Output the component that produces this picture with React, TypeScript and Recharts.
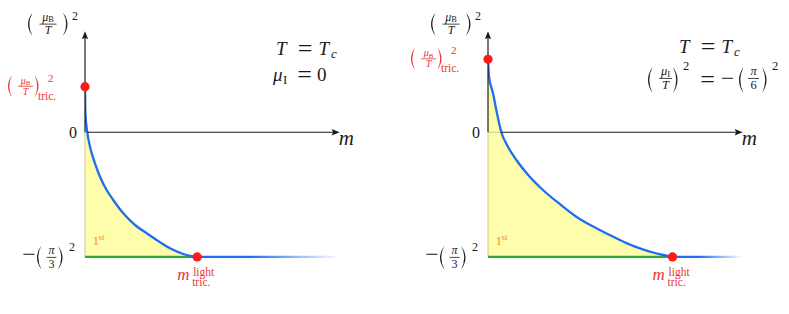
import React from 'react';
import {
  ComposedChart,
  Area,
  Line,
  XAxis,
  YAxis,
  ReferenceLine,
  ReferenceDot,
} from 'recharts';

const FONT = '"Liberation Serif", "DejaVu Serif", serif';
const INK = '#1b1b1b';
const RED = '#ff1a1a';
const RED_TEXT = '#ee3535';
const ORANGE = '#f3863a';
const BLUE = '#1d6ff0';
const GREEN = '#2eaa2e';
const YELLOW = '#fdfdab';
const OLIVE = '#cbcb8e';

// shared scale of both panels
const X_MAX = 2.3;
const Y_MIN = -1.3;
const Y_MAX = 0.9;
const X_END = 2.27; // tip of the m arrow
const Y_TOP = 0.89; // tip of the (mu_B/T)^2 arrow
const Y_BOT = -((Math.PI / 3) ** 2); // -(pi/3)^2

// left panel: mu_I = 0
const leftM = [0, 0.0036, 0.0205, 0.0446, 0.0892, 0.1337, 0.193, 0.252, 0.341, 0.446, 0.55, 0.669, 0.758, 0.876, 1.0];
const leftY = [0.401, 0.17, 0, -0.127, -0.273, -0.391, -0.508, -0.596, -0.713, -0.816, -0.889, -0.968, -1.021, -1.071, Y_BOT];
const leftTric = 0.401;
const leftMTric = 1.0;

// right panel: (mu_I/T)^2 = -(pi/6)^2
const rightM = [0, 0.009, 0.045, 0.074, 0.119, 0.178, 0.253, 0.372, 0.49, 0.639, 0.787, 0.966, 1.144, 1.293, 1.442, 1.645];
const rightY = [0.642, 0.489, 0.343, 0.196, 0, -0.127, -0.244, -0.391, -0.508, -0.631, -0.743, -0.845, -0.933, -1.0, -1.05, Y_BOT];
const rightTric = 0.642;
const rightMTric = 1.645;

// where the "T = T_c" note sits (left edge of its "=")
const leftNote = { m: 1.89, y: 0.68 };
const rightNote = { m: 1.89, y: 0.698 };

const Paren = ({ x, cy, h, side, color = INK, w = 4.5 }: any) => {
  const t = cy - h / 2;
  const b = cy + h / 2;
  const th = 1.3;
  const d =
    side === 'l'
      ? `M${x + w},${t} Q${x - w},${cy} ${x + w},${b} Q${x - w + 2 * th},${cy} ${x + w},${t}Z`
      : `M${x},${t} Q${x + 2 * w},${cy} ${x},${b} Q${x + 2 * w - 2 * th},${cy} ${x},${t}Z`;
  return <path d={d} fill={color} />;
};

const Tx = ({ x, y, size, italic, color = INK, anchor = 'start', children }: any) => (
  <text
    x={x}
    y={y}
    fontSize={size}
    fontStyle={italic ? 'italic' : 'normal'}
    fill={color}
    fontFamily={FONT}
    style={{ fontFamily: FONT }}
    textAnchor={anchor}
  >
    {children}
  </text>
);

const Frac = ({ cx, by, w, fs, num, den, color = INK }: any) => (
  <g>
    <Tx x={cx} y={by - fs * 0.27} size={fs} color={color} anchor="middle">
      {num}
    </Tx>
    <line x1={cx - w / 2} x2={cx + w / 2} y1={by} y2={by} stroke={color} strokeWidth={0.8} />
    <Tx x={cx} y={by + fs * 0.86} size={fs} color={color} anchor="middle">
      {den}
    </Tx>
  </g>
);

const muSub = (sub: string, fs: number) => (
  <>
    <tspan fontStyle="italic">μ</tspan>
    <tspan fontSize={fs * 0.7} dy={1.5}>
      {sub}
    </tspan>
  </>
);
const ital = (s: string) => <tspan fontStyle="italic">{s}</tspan>;

// vertical arrow with (mu_B / T)^2 above it
const yArrow = (p: any) => {
  const { x1, y1, x2, y2 } = p;
  const x0 = x2 - 57;
  const cy = y2 - 7;
  return (
    <g>
      <line x1={x1} y1={y1} x2={x2} y2={y2 + 5} stroke={INK} strokeWidth={1.2} />
      <path d={`M${x2},${y2} L${x2 - 3.2},${y2 + 8} L${x2},${y2 + 6.5} L${x2 + 3.2},${y2 + 8}Z`} fill={INK} />
      <Paren x={x0} cy={cy} h={23} side="l" />
      <Frac cx={x0 + 20} by={cy} w={17} fs={12} num={muSub('B', 12)} den={ital('T')} />
      <Paren x={x0 + 35} cy={cy} h={23} side="r" />
      <Tx x={x0 + 44} y={cy - 4} size={12}>2</Tx>
    </g>
  );
};

const xArrow = (p: any) => {
  const { x1, y1, x2, y2 } = p;
  return (
    <g>
      <line x1={x1} y1={y1} x2={x2 - 5} y2={y2} stroke={INK} strokeWidth={1.2} />
      <path d={`M${x2},${y2} L${x2 - 8},${y2 - 3.2} L${x2 - 6.5},${y2} L${x2 - 8},${y2 + 3.2}Z`} fill={INK} />
      <Tx x={x2 - 1} y={y2 + 12.5} size={21} italic>m</Tx>
    </g>
  );
};

// faint part of the m axis inside the yellow region, plus the "0"
const xAxisInner = (p: any) => (
  <g>
    <line x1={p.x1} y1={p.y1} x2={p.x2} y2={p.y2} stroke={OLIVE} strokeWidth={1} />
    <Tx x={p.x1 - 8} y={p.y1 + 6} size={16} anchor="end">0</Tx>
  </g>
);

// green first order line, with -(pi/3)^2 and 1st
const greenLine = (p: any) => {
  const { x1, y1, x2, y2 } = p;
  return (
    <g>
      <line x1={x1} y1={y1} x2={x2} y2={y2} stroke={GREEN} strokeWidth={2.4} />
      <Tx x={x1 - 56} y={y1 + 5} size={24} anchor="middle">−</Tx>
      <Paren x={x1 - 48} cy={y1 + 0.5} h={24} side="l" />
      <Frac cx={x1 - 33.5} by={y1 + 0.5} w={10} fs={12} num={ital('π')} den="3" />
      <Paren x={x1 - 27} cy={y1 + 0.5} h={24} side="r" />
      <Tx x={x1 - 16} y={y1 - 6} size={12}>2</Tx>
      <Tx x={x1 + 8} y={y1 - 11.5} size={11.5} color={ORANGE}>1</Tx>
      <Tx x={x1 + 13.5} y={y1 - 16.5} size={9} color={ORANGE}>st</Tx>
    </g>
  );
};

const fadeTail = (id: string) => (p: any) => (
  <g>
    <defs>
      <linearGradient id={id} gradientUnits="userSpaceOnUse" x1={p.x1} y1={p.y1} x2={p.x2} y2={p.y2}>
        <stop offset="0" stopColor={BLUE} stopOpacity={1} />
        <stop offset="0.37" stopColor={BLUE} stopOpacity={1} />
        <stop offset="1" stopColor={BLUE} stopOpacity={0} />
      </linearGradient>
    </defs>
    <line x1={p.x1} y1={p.y1} x2={p.x2} y2={p.y2} stroke={`url(#${id})`} strokeWidth={2.3} />
  </g>
);

// red dot on the axis, (mu_B/T)^2_tric.
const tricDot = (p: any) => {
  const { cx, cy } = p;
  const x0 = cx - 77;
  return (
    <g>
      <Paren x={x0} cy={cy - 0.5} h={22} side="l" color={RED_TEXT} w={4} />
      <Frac cx={x0 + 17.5} by={cy - 0.5} w={15} fs={10} num={muSub('B', 10)} den={ital('T')} color={RED_TEXT} />
      <Paren x={x0 + 26.5} cy={cy - 0.5} h={22} side="r" color={RED_TEXT} w={4} />
      <Tx x={x0 + 40} y={cy - 5} size={11} color={RED_TEXT}>2</Tx>
      <Tx x={x0 + 30} y={cy + 13} size={11.5} color={RED_TEXT}>tric.</Tx>
      <circle cx={cx} cy={cy} r={4.6} fill={RED} />
    </g>
  );
};

// red dot at the end of the green line, m^light_tric.
const lightDot = (p: any) => {
  const { cx, cy } = p;
  return (
    <g>
      <circle cx={cx} cy={cy} r={4.6} fill={RED} />
      <Tx x={cx - 20} y={cy + 23} size={17} italic color={RED_TEXT}>m</Tx>
      <Tx x={cx - 4} y={cy + 19} size={11.5} color={RED_TEXT}>light</Tx>
      <Tx x={cx - 5} y={cy + 29.5} size={11.5} color={RED_TEXT}>tric.</Tx>
    </g>
  );
};

const noteTc = (ax: number, ay: number) => (
  <g>
    <Tx x={ax - 21} y={ay} size={19} italic>T</Tx>
    <Tx x={ax + 8} y={ay + 2.3} size={26} anchor="middle">=</Tx>
    <Tx x={ax + 21.5} y={ay} size={19} italic>T</Tx>
    <Tx x={ax + 34} y={ay + 3} size={13} italic>c</Tx>
  </g>
);

const leftNoteShape = (p: any) => {
  const ax = p.cx;
  const ay = p.cy;
  return (
    <g>
      {noteTc(ax, ay)}
      <Tx x={ax - 24} y={ay + 26} size={19} italic>μ</Tx>
      <Tx x={ax - 14} y={ay + 29} size={13}>I</Tx>
      <Tx x={ax + 7.5} y={ay + 28.3} size={26} anchor="middle">=</Tx>
      <Tx x={ax + 20} y={ay + 26} size={19}>0</Tx>
    </g>
  );
};

const rightNoteShape = (p: any) => {
  const ax = p.cx;
  const ay = p.cy;
  const cy = ay + 27;
  return (
    <g>
      {noteTc(ax, ay)}
      <Paren x={ax - 52} cy={cy} h={26} side="l" />
      <Frac cx={ax - 34.5} by={cy - 1.5} w={13} fs={12.5} num={muSub('I', 12.5)} den={ital('T')} />
      <Paren x={ax - 27} cy={cy} h={26} side="r" />
      <Tx x={ax - 17} y={ay + 17} size={12.5}>2</Tx>
      <Tx x={ax + 7.5} y={ay + 34.8} size={26} anchor="middle">=</Tx>
      <Tx x={ax + 27.5} y={ay + 33} size={24} anchor="middle">−</Tx>
      <Paren x={ax + 39} cy={cy} h={26} side="l" />
      <Frac cx={ax + 53.5} by={cy - 1.5} w={11} fs={12.5} num={ital('π')} den="6" />
      <Paren x={ax + 62} cy={cy} h={26} side="r" />
      <Tx x={ax + 72} y={ay + 17} size={12.5}>2</Tx>
    </g>
  );
};

const Panel = ({ id, m, y, tric, mTric, note, noteShape, width, marginLeft }: any) => {
  const rows = m.map((v: number, i: number) => ({ m: v, y: y[i] }));
  const cross = rows.find((r: any) => r.y === 0).m;
  const plotW = 258;
  return (
    <ComposedChart
      width={width}
      height={314}
      data={rows}
      margin={{ top: 30, bottom: 34, left: marginLeft, right: width - marginLeft - plotW }}
    >
      <XAxis dataKey="m" type="number" domain={[0, X_MAX]} hide allowDataOverflow />
      <YAxis type="number" domain={[Y_MIN, Y_MAX]} hide allowDataOverflow />
      <Area
        dataKey="y"
        type="monotone"
        baseValue={Y_BOT}
        fill={YELLOW}
        fillOpacity={1}
        stroke="none"
        isAnimationActive={false}
      />
      <ReferenceLine segment={[{ x: 0, y: Y_BOT }, { x: 0, y: 0 }]} stroke={OLIVE} strokeWidth={1} />
      <ReferenceLine segment={[{ x: 0, y: 0 }, { x: cross, y: 0 }]} shape={xAxisInner} />
      <ReferenceLine segment={[{ x: 0, y: Y_BOT }, { x: mTric, y: Y_BOT }]} shape={greenLine} />
      <Line
        dataKey="y"
        type="monotone"
        stroke={BLUE}
        strokeWidth={2.3}
        dot={false}
        activeDot={false}
        isAnimationActive={false}
      />
      <ReferenceLine segment={[{ x: mTric, y: Y_BOT }, { x: X_END, y: Y_BOT }]} shape={fadeTail(id + '-tail')} />
      <ReferenceLine segment={[{ x: cross, y: 0 }, { x: X_END, y: 0 }]} shape={xArrow} />
      <ReferenceLine segment={[{ x: 0, y: 0 }, { x: 0, y: Y_TOP }]} shape={yArrow} />
      <ReferenceDot x={0} y={tric} r={4.6} shape={tricDot} />
      <ReferenceDot x={mTric} y={Y_BOT} r={4.6} shape={lightDot} />
      <ReferenceDot x={note.m} y={note.y} r={1} shape={noteShape} />
    </ComposedChart>
  );
};

export default function App() {
  return (
    <div style={{ position: 'absolute', left: 0, top: 0, width: 789, height: 314, background: '#fff' }}>
      <div style={{ position: 'absolute', left: 0, top: 0 }}>
        <Panel
          id="left"
          m={leftM}
          y={leftY}
          tric={leftTric}
          mTric={leftMTric}
          note={leftNote}
          noteShape={leftNoteShape}
          width={394}
          marginLeft={85}
        />
      </div>
      <div style={{ position: 'absolute', left: 394, top: 0 }}>
        <Panel
          id="right"
          m={rightM}
          y={rightY}
          tric={rightTric}
          mTric={rightMTric}
          note={rightNote}
          noteShape={rightNoteShape}
          width={395}
          marginLeft={94}
        />
      </div>
    </div>
  );
}
